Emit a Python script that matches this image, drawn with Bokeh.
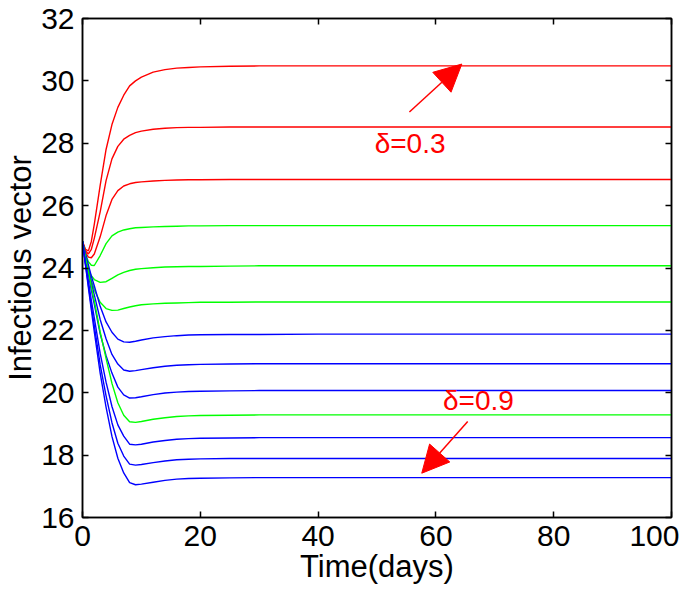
from bokeh.plotting import figure
from bokeh.models import Range1d, LinearAxis, Label, Arrow, NormalHead, FixedTicker
from bokeh.embed import file_html
from bokeh.resources import INLINE

# ---- data ----
t = [0, 0.5, 1, 1.5, 2, 3, 4, 5, 6, 7, 8, 9, 10, 12, 14, 16, 18, 20, 25, 30, 40, 100]

red1 = [24.85, 24.6, 24.55, 24.85, 25.4, 26.65, 27.8, 28.6, 29.15, 29.54, 29.84, 30.0, 30.12, 30.28, 30.36, 30.41, 30.43, 30.45, 30.47, 30.48, 30.48, 30.48]
red2 = [24.85, 24.55, 24.45, 24.6, 24.95, 25.8, 26.8, 27.5, 27.9, 28.13, 28.25, 28.34, 28.39, 28.45, 28.48, 28.5, 28.51, 28.51, 28.52, 28.52, 28.52, 28.52]
red3 = [24.85, 24.5, 24.35, 24.33, 24.45, 25.0, 25.68, 26.2, 26.48, 26.63, 26.7, 26.74, 26.76, 26.79, 26.81, 26.82, 26.83, 26.83, 26.84, 26.84, 26.84, 26.84]
green1 = [24.85, 24.45, 24.2, 24.09, 24.08, 24.4, 24.78, 25.03, 25.15, 25.22, 25.26, 25.29, 25.3, 25.32, 25.33, 25.34, 25.35, 25.35, 25.36, 25.36, 25.36, 25.36]
green2 = [24.85, 24.3, 23.95, 23.75, 23.63, 23.54, 23.56, 23.67, 23.78, 23.86, 23.92, 23.96, 23.98, 24.01, 24.03, 24.04, 24.05, 24.05, 24.06, 24.07, 24.07, 24.07]
green3 = [24.85, 24.4, 24.0, 23.6, 23.3, 22.9, 22.7, 22.64, 22.65, 22.7, 22.75, 22.79, 22.82, 22.85, 22.87, 22.88, 22.89, 22.9, 22.9, 22.91, 22.91, 22.91]
blue1 = [24.85, 24.46, 24.1, 23.74, 23.43, 22.77, 22.27, 21.94, 21.72, 21.63, 21.62, 21.65, 21.69, 21.76, 21.8, 21.83, 21.85, 21.86, 21.87, 21.87, 21.88, 21.88]
blue2 = [24.85, 24.39, 23.96, 23.52, 23.14, 22.35, 21.73, 21.23, 20.92, 20.73, 20.69, 20.71, 20.74, 20.8, 20.85, 20.88, 20.9, 20.91, 20.92, 20.93, 20.93, 20.93]
blue3 = [24.85, 24.3, 23.8, 23.29, 22.84, 21.89, 21.19, 20.63, 20.18, 19.93, 19.83, 19.84, 19.87, 19.94, 19.99, 20.02, 20.04, 20.05, 20.06, 20.07, 20.07, 20.07]
green4 = [24.85, 24.35, 23.9, 23.4, 22.95, 21.95, 21.1, 20.3, 19.68, 19.28, 19.07, 19.05, 19.08, 19.15, 19.2, 19.24, 19.26, 19.27, 19.28, 19.29, 19.29, 19.29]
blue4 = [24.85, 24.16, 23.58, 22.96, 22.4, 21.26, 20.34, 19.56, 18.97, 18.61, 18.35, 18.33, 18.35, 18.42, 18.47, 18.51, 18.53, 18.54, 18.55, 18.56, 18.56, 18.56]
blue5 = [24.85, 24.12, 23.45, 22.77, 22.15, 20.9, 19.9, 19.04, 18.38, 17.97, 17.71, 17.68, 17.7, 17.76, 17.81, 17.85, 17.87, 17.88, 17.89, 17.89, 17.89, 17.89]
blue6 = [24.85, 24.1, 23.37, 22.66, 21.96, 20.63, 19.54, 18.6, 17.9, 17.43, 17.12, 17.05, 17.07, 17.13, 17.19, 17.23, 17.25, 17.26, 17.27, 17.28, 17.28, 17.28]

series = [red1, red2, red3, green1, green2, green3, blue1, blue2, blue3, green4, blue4, blue5, blue6]
series_colors = ["#FF0000"] * 3 + ["#00FF00"] * 3 + ["#0000FF"] * 3 + ["#00FF00"] + ["#0000FF"] * 3

x_ticks = [0, 20, 40, 60, 80, 100]
y_ticks = [16, 18, 20, 22, 24, 26, 28, 30, 32]

x_label = "Time(days)"
y_label = "Infectious vector"
note_top = "δ=0.3"
note_bottom = "δ=0.9"
note_top_pos = (49.6, 28.0)
note_bottom_pos = (61.2, 19.75)
arrow_top = (55.5, 29.0, 64.4, 30.54)
arrow_bottom = (65.4, 19.08, 57.6, 17.42)

FONT = "Liberation Sans"

p = figure(width=679, height=586, output_backend="svg", toolbar_location=None,
           x_range=Range1d(0, 100), y_range=Range1d(16, 32),
           min_border_left=70, min_border_right=8, min_border_top=18, min_border_bottom=60)
p.background_fill_color = "white"
p.border_fill_color = "white"
p.outline_line_color = "black"
p.outline_line_width = 1.5
p.xgrid.visible = False
p.ygrid.visible = False

for ys, c in zip(series, series_colors):
    p.line(t, ys, line_color=c, line_width=1.4)

for ax, ticks in ((p.xaxis[0], x_ticks), (p.yaxis[0], y_ticks)):
    ax.ticker = FixedTicker(ticks=ticks)
    ax.major_tick_in = 6
    ax.major_tick_out = 0
    ax.minor_tick_line_color = None
    ax.axis_line_width = 1.5
    ax.major_tick_line_width = 1.5
    ax.major_label_text_font = FONT
    ax.major_label_text_font_size = "30px"
    ax.major_label_text_color = "black"
    ax.axis_label_text_font = FONT
    ax.axis_label_text_font_size = "31px"
    ax.axis_label_text_font_style = "normal"
    ax.axis_label_text_color = "black"

p.xaxis[0].axis_label = x_label
p.yaxis[0].axis_label = y_label
p.xaxis[0].major_label_standoff = 8
p.xaxis[0].axis_label_standoff = 0
p.yaxis[0].major_label_standoff = 8
p.yaxis[0].axis_label_standoff = 0

# mirrored axes (top / right) with ticks only, no labels
def tick_only_axis(ticks):
    return LinearAxis(ticker=FixedTicker(ticks=ticks), major_label_text_font_size="1px",
                      major_label_text_color=None, major_label_standoff=0,
                      major_tick_in=6, major_tick_out=0, minor_tick_line_color=None,
                      axis_line_width=1.5, major_tick_line_width=1.5)

p.add_layout(tick_only_axis(x_ticks), "above")
p.add_layout(tick_only_axis(y_ticks), "right")

# annotations
p.add_layout(Label(x=note_top_pos[0], y=note_top_pos[1], text=note_top, text_color="#FF0000",
                   text_font=FONT, text_font_size="28px", text_baseline="alphabetic"))
p.add_layout(Label(x=note_bottom_pos[0], y=note_bottom_pos[1], text=note_bottom, text_color="#FF0000",
                   text_font=FONT, text_font_size="28px", text_baseline="alphabetic"))

for (xs, ys, xe, ye) in (arrow_top, arrow_bottom):
    p.add_layout(Arrow(x_start=xs, y_start=ys, x_end=xe, y_end=ye,
                       line_color="#FF0000", line_width=1.5,
                       end=NormalHead(size=27, fill_color="#FF0000", line_color="#FF0000", line_width=1)))

open("out.html", "w").write(file_html(p, INLINE))
